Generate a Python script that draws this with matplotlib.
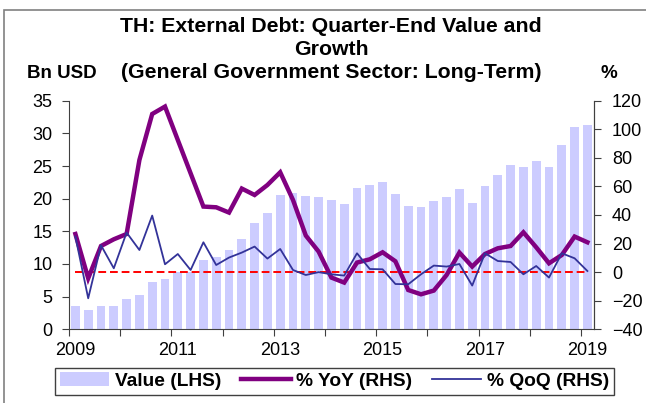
import numpy as np
import matplotlib
matplotlib.use('Agg')
from matplotlib import pyplot as plt
from matplotlib.patches import Rectangle

plt.rcParams['font.family'] = ['Liberation Sans', 'DejaVu Sans']

# quarterly data, 2009Q1 - 2019Q1
quarters = ['{:d}Q{:d}'.format(y, q) for y in range(2009, 2020) for q in range(1, 5)][:41]
value = [3.6, 3.0, 3.5, 3.6, 4.6, 5.2, 7.3, 7.7, 8.7, 8.8,
         10.6, 11.1, 12.1, 13.8, 16.3, 17.8, 20.6, 20.9, 20.4, 20.3,
         19.8, 19.2, 21.7, 22.1, 22.5, 20.7, 18.9, 18.7, 19.6, 20.2,
         21.5, 19.3, 21.9, 23.6, 25.2, 24.8, 25.8, 24.8, 28.2, 30.9, 31.3]
yoy = [26.7, -4.3, 18.3, 23.0, 26.7, 78.5, 110.7, 115.9, 92.5, 69.2,
       45.9, 45.4, 41.7, 58.5, 54.0, 61.0, 69.9, 50.5, 25.6, 14.4,
       -3.8, -7.3, 6.7, 9.0, 13.9, 7.6, -12.5, -15.5, -12.9, -2.0,
       13.7, 3.9, 12.7, 16.7, 18.3, 27.9, 17.4, 6.2, 12.0, 24.9, 20.9]
qoq = [24.9, -18.3, 18.8, 2.7, 27.7, 15.5, 39.6, 5.5, 12.7, 1.5,
       20.9, 5.0, 10.2, 13.7, 17.9, 9.5, 16.2, 1.5, -2.0, 0.0,
       -1.5, -2.4, 13.2, 2.2, 2.0, -8.3, -8.5, -1.5, 4.6, 3.9,
       5.7, -9.4, 13.2, 7.8, 7.1, -1.5, 4.3, -3.8, 13.2, 9.7, 0.8]
zero = [0] * len(quarters)
year_labels = ['2009', '2011', '2013', '2015', '2017', '2019']

x = np.arange(len(quarters))

fig = plt.figure(figsize=(6.46, 4.03), dpi=100)
# outer frame of the chart (cut off at right/bottom in the original)
fig.patches.append(Rectangle((4/646, -0.1), 1.2, 1 - 10/403 + 0.1, transform=fig.transFigure,
                             fill=False, edgecolor='#808080', linewidth=1.2))
ax = fig.add_axes([69/646, 1 - 329.3/403, (593.8 - 69)/646, (329.3 - 100.7)/403])
ax2 = ax.twinx()
ax.set_zorder(1)
ax.patch.set_visible(False)

bars = ax.bar(x, value, width=0.7, color='#CCCCFF', zorder=1)
ax.set_ylim(0, 35)
ax.set_yticks(np.arange(0, 36, 5))
ax.set_xlim(-0.5, len(quarters) - 0.5)

ax2.set_zorder(2)
ax2.patch.set_visible(False)
ax2.plot(x, zero, color='#FF0000', lw=1.4, ls=(0, (4, 2)))
l1, = ax2.plot(x, yoy, color='#800080', lw=3.2, solid_joinstyle='miter')
l2, = ax2.plot(x, qoq, color='#333399', lw=1.3)
ax2.set_ylim(-40, 120)
ax2.set_yticks(np.arange(-40, 121, 20))

ax.set_xticks(np.arange(-0.5, len(quarters), 4))
ax.set_xticklabels([])
ax.set_xticks([quarters.index(y + 'Q1') for y in year_labels], minor=True)
ax.set_xticklabels(year_labels, minor=True)

for a in (ax, ax2):
    a.spines['top'].set_visible(False)
    for s in a.spines.values():
        s.set_color('#404040')
    a.tick_params(which='both', labelsize=13, color='#404040', direction='out', length=5)
ax.tick_params(axis='x', which='minor', length=0, pad=9)
ax.tick_params(axis='y', pad=7)
ax2.tick_params(axis='y', pad=8)
ax2.spines['left'].set_visible(False)
ax2.spines['bottom'].set_visible(False)

tk = dict(fontsize=15.3, fontweight='bold', ha='center', va='baseline')
fig.text(331/646, 1 - 32/403, 'TH: External Debt: Quarter-End Value and', **tk)
fig.text(331/646, 1 - 55/403, 'Growth', **tk)
fig.text(331/646, 1 - 78/403, '(General Government Sector: Long-Term)', **tk)
lk = dict(fontsize=13.5, fontweight='bold', ha='center', va='baseline')
fig.text(62/646, 1 - 78/403, 'Bn USD', **lk)
fig.text(609/646, 1 - 78/403, '%', **lk)

leg = fig.legend([bars, l1, l2], ['Value (LHS)', '% YoY (RHS)', '% QoQ (RHS)'],
                 loc='center', bbox_to_anchor=(334.5/646, 1 - 381/403), ncol=3,
                 fancybox=False, edgecolor='#404040', framealpha=1,
                 prop={'size': 13.8, 'weight': 'bold'}, handlelength=2.6,
                 handletextpad=0.3, columnspacing=1.0, borderpad=0.25)
leg.get_frame().set_linewidth(1.0)

plt.savefig('out.png', dpi=100)
